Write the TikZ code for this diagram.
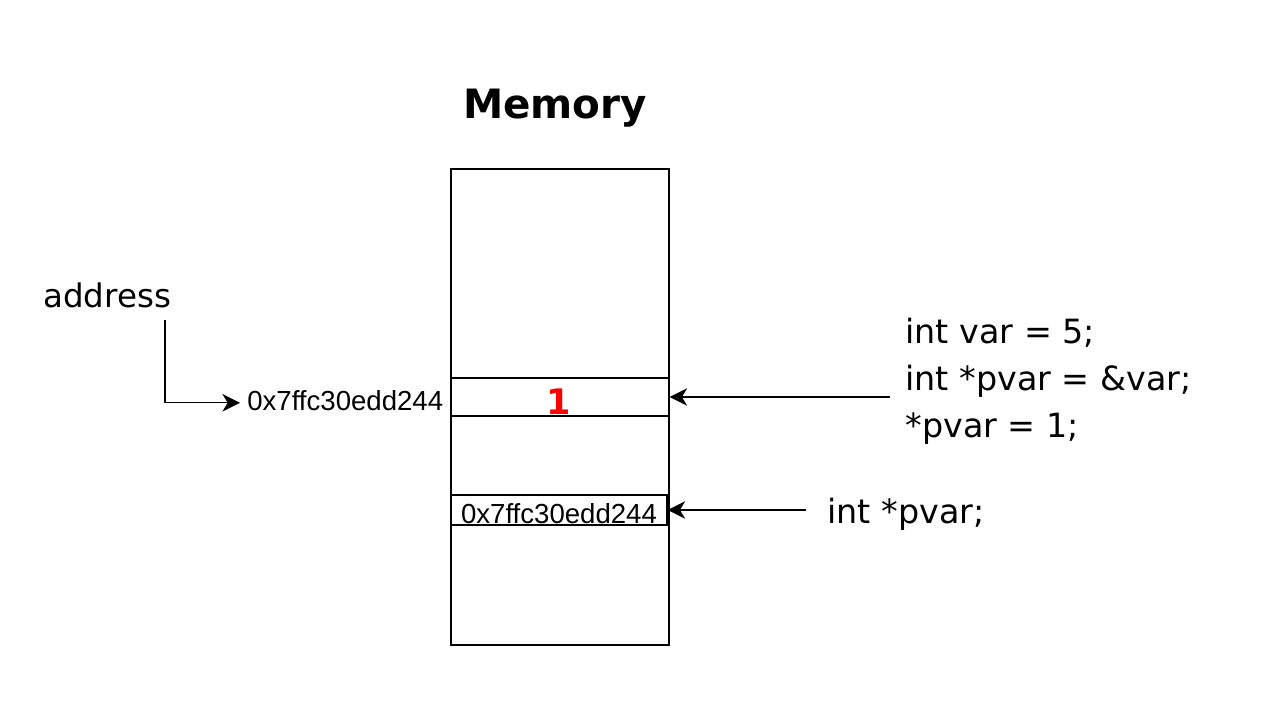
\documentclass[tikz,border=0pt]{standalone}
\usepackage{fontspec}
\setmainfont{DejaVu Sans}
\newfontfamily\hexfont{Liberation Sans}
\usetikzlibrary{arrows.meta}

\tikzset{
	cell/.style={draw, line width=0.7pt, inner sep=0pt},
	hexlabel/.style={font=\hexfont\fontsize{15.7pt}{18pt}\selectfont, inner sep=0pt},
	codelabel/.style={font=\fontsize{19pt}{26.7pt}\selectfont, inner sep=0pt, align=left},
	arr/.style={line width=0.7pt, -{Stealth[length=10pt,width=10pt,inset=3pt]}}
}

\begin{document}
\begin{tikzpicture}[x=0.02cm, y=-0.02cm]
	\useasboundingbox (0,0) rectangle (1278,724);
	% memory block and its two cells
	\node [cell, minimum width=4.36cm, minimum height=9.52cm] (mem) at (560,407) {};
	\node [cell, minimum width=4.36cm, minimum height=0.76cm] (cellvar) at (560,397) {};
	\node [cell, minimum width=4.32cm, minimum height=0.6cm] (cellptr) at (559,510) {};
	\node [font=\bfseries\fontsize{23pt}{27pt}\selectfont, inner sep=0pt] (title) at (555,108) {Memory};
	\node [text=red, font=\bfseries\fontsize{20pt}{24pt}\selectfont, inner sep=0pt] (one) at (559,402) {1};
	\node [hexlabel] (ptrval) at (559,514) {0x7ffc30edd244};
	% address on the left
	\node [font=\fontsize{18.5pt}{22pt}\selectfont, inner sep=0pt, anchor=west] (addr) at (43,295) {address};
	\node [hexlabel, anchor=west] (addrval) at (247,401) {0x7ffc30edd244};
	\coordinate (addrtop) at (165,320);
	\draw [arr] (addrtop) |- ([xshift=-4pt,yshift=-1pt]addrval.west);
	% code on the right
	\node [codelabel, anchor=west] (code) at (905,381) {int var = 5;\\int *pvar = \&var;\\*pvar = 1;};
	\node [codelabel, anchor=west] (decl) at (827,514) {int *pvar;};
	\coordinate (codein) at (890,397);
	\coordinate (declin) at (806,510);
	\draw [arr] (codein) -- (cellvar.east);
	\draw [arr] (declin) -- (cellptr.east);
\end{tikzpicture}
\end{document}
